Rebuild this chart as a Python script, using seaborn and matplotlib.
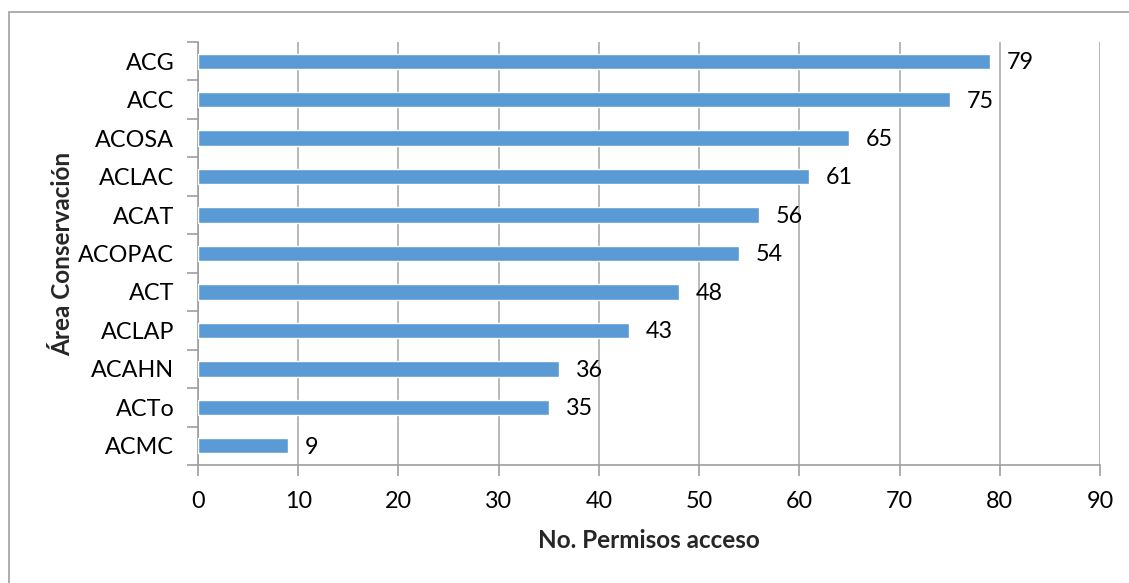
import matplotlib
matplotlib.use("Agg")
import matplotlib.pyplot as plt
from matplotlib.patches import Rectangle
import seaborn as sns
import pandas as pd

areas = ["ACG", "ACC", "ACOSA", "ACLAC", "ACAT", "ACOPAC", "ACT", "ACLAP", "ACAHN", "ACTo", "ACMC"]
permisos = [79, 75, 65, 61, 56, 54, 48, 43, 36, 35, 9]
x_ticks = [0, 10, 20, 30, 40, 50, 60, 70, 80, 90]

df = pd.DataFrame({"area": areas, "permisos": permisos})

sns.set_theme(style="white")
plt.rcParams["font.family"] = ["Lato", "DejaVu Sans"]

W, H, DPI = 1129, 583, 100
fig = plt.figure(figsize=(W / DPI, H / DPI), dpi=DPI)
ax = fig.add_axes([198 / W, 1 - 465 / H, (1100 - 198) / W, (465 - 42) / H])

sns.barplot(data=df, x="permisos", y="area", order=areas, orient="h",
            color="#5B9BD5", saturation=1, width=0.4, ax=ax, zorder=3)

ax.set_xlim(0, 90)
ax.set_ylim(len(areas) - 0.5, -0.5)
ax.set_xticks(x_ticks)
ax.set_xticklabels([str(t) for t in x_ticks])
ax.xaxis.grid(True, color="#ABABAB", linewidth=1.2, zorder=0)
ax.yaxis.grid(False)

for side in ["top", "right"]:
    ax.spines[side].set_visible(False)
for side in ["left", "bottom"]:
    ax.spines[side].set_color("#9E9E9E")
    ax.spines[side].set_linewidth(1.2)

# category boundary tick marks on the y axis
ax.set_yticks([i - 0.5 for i in range(len(areas) + 1)], minor=True)
ax.tick_params(axis="y", which="minor", length=8, width=1.2, color="#9E9E9E", left=True)
ax.tick_params(axis="y", which="major", length=0, pad=17, labelsize=16.8, labelcolor="black")
ax.tick_params(axis="x", which="major", length=8, width=1.2, color="#9E9E9E", bottom=True,
               pad=11, labelsize=16.8, labelcolor="black")

for i, v in enumerate(permisos):
    ax.annotate(str(v), xy=(v, i), xytext=(12, -1), textcoords="offset points",
                ha="left", va="center", fontsize=16.8, color="black")

ax.set_xlabel("No. Permisos acceso", fontsize=17.5, fontweight="bold", labelpad=12)
ax.set_ylabel("Área Conservación", fontsize=17.5, fontweight="bold", labelpad=3)

fig.add_artist(Rectangle((9 / W, -0.05), 1.1, 1 - 12 / H + 0.05, transform=fig.transFigure,
                         fill=False, edgecolor="#A0A0A0", linewidth=1.2))

fig.savefig("out.png", dpi=DPI)
